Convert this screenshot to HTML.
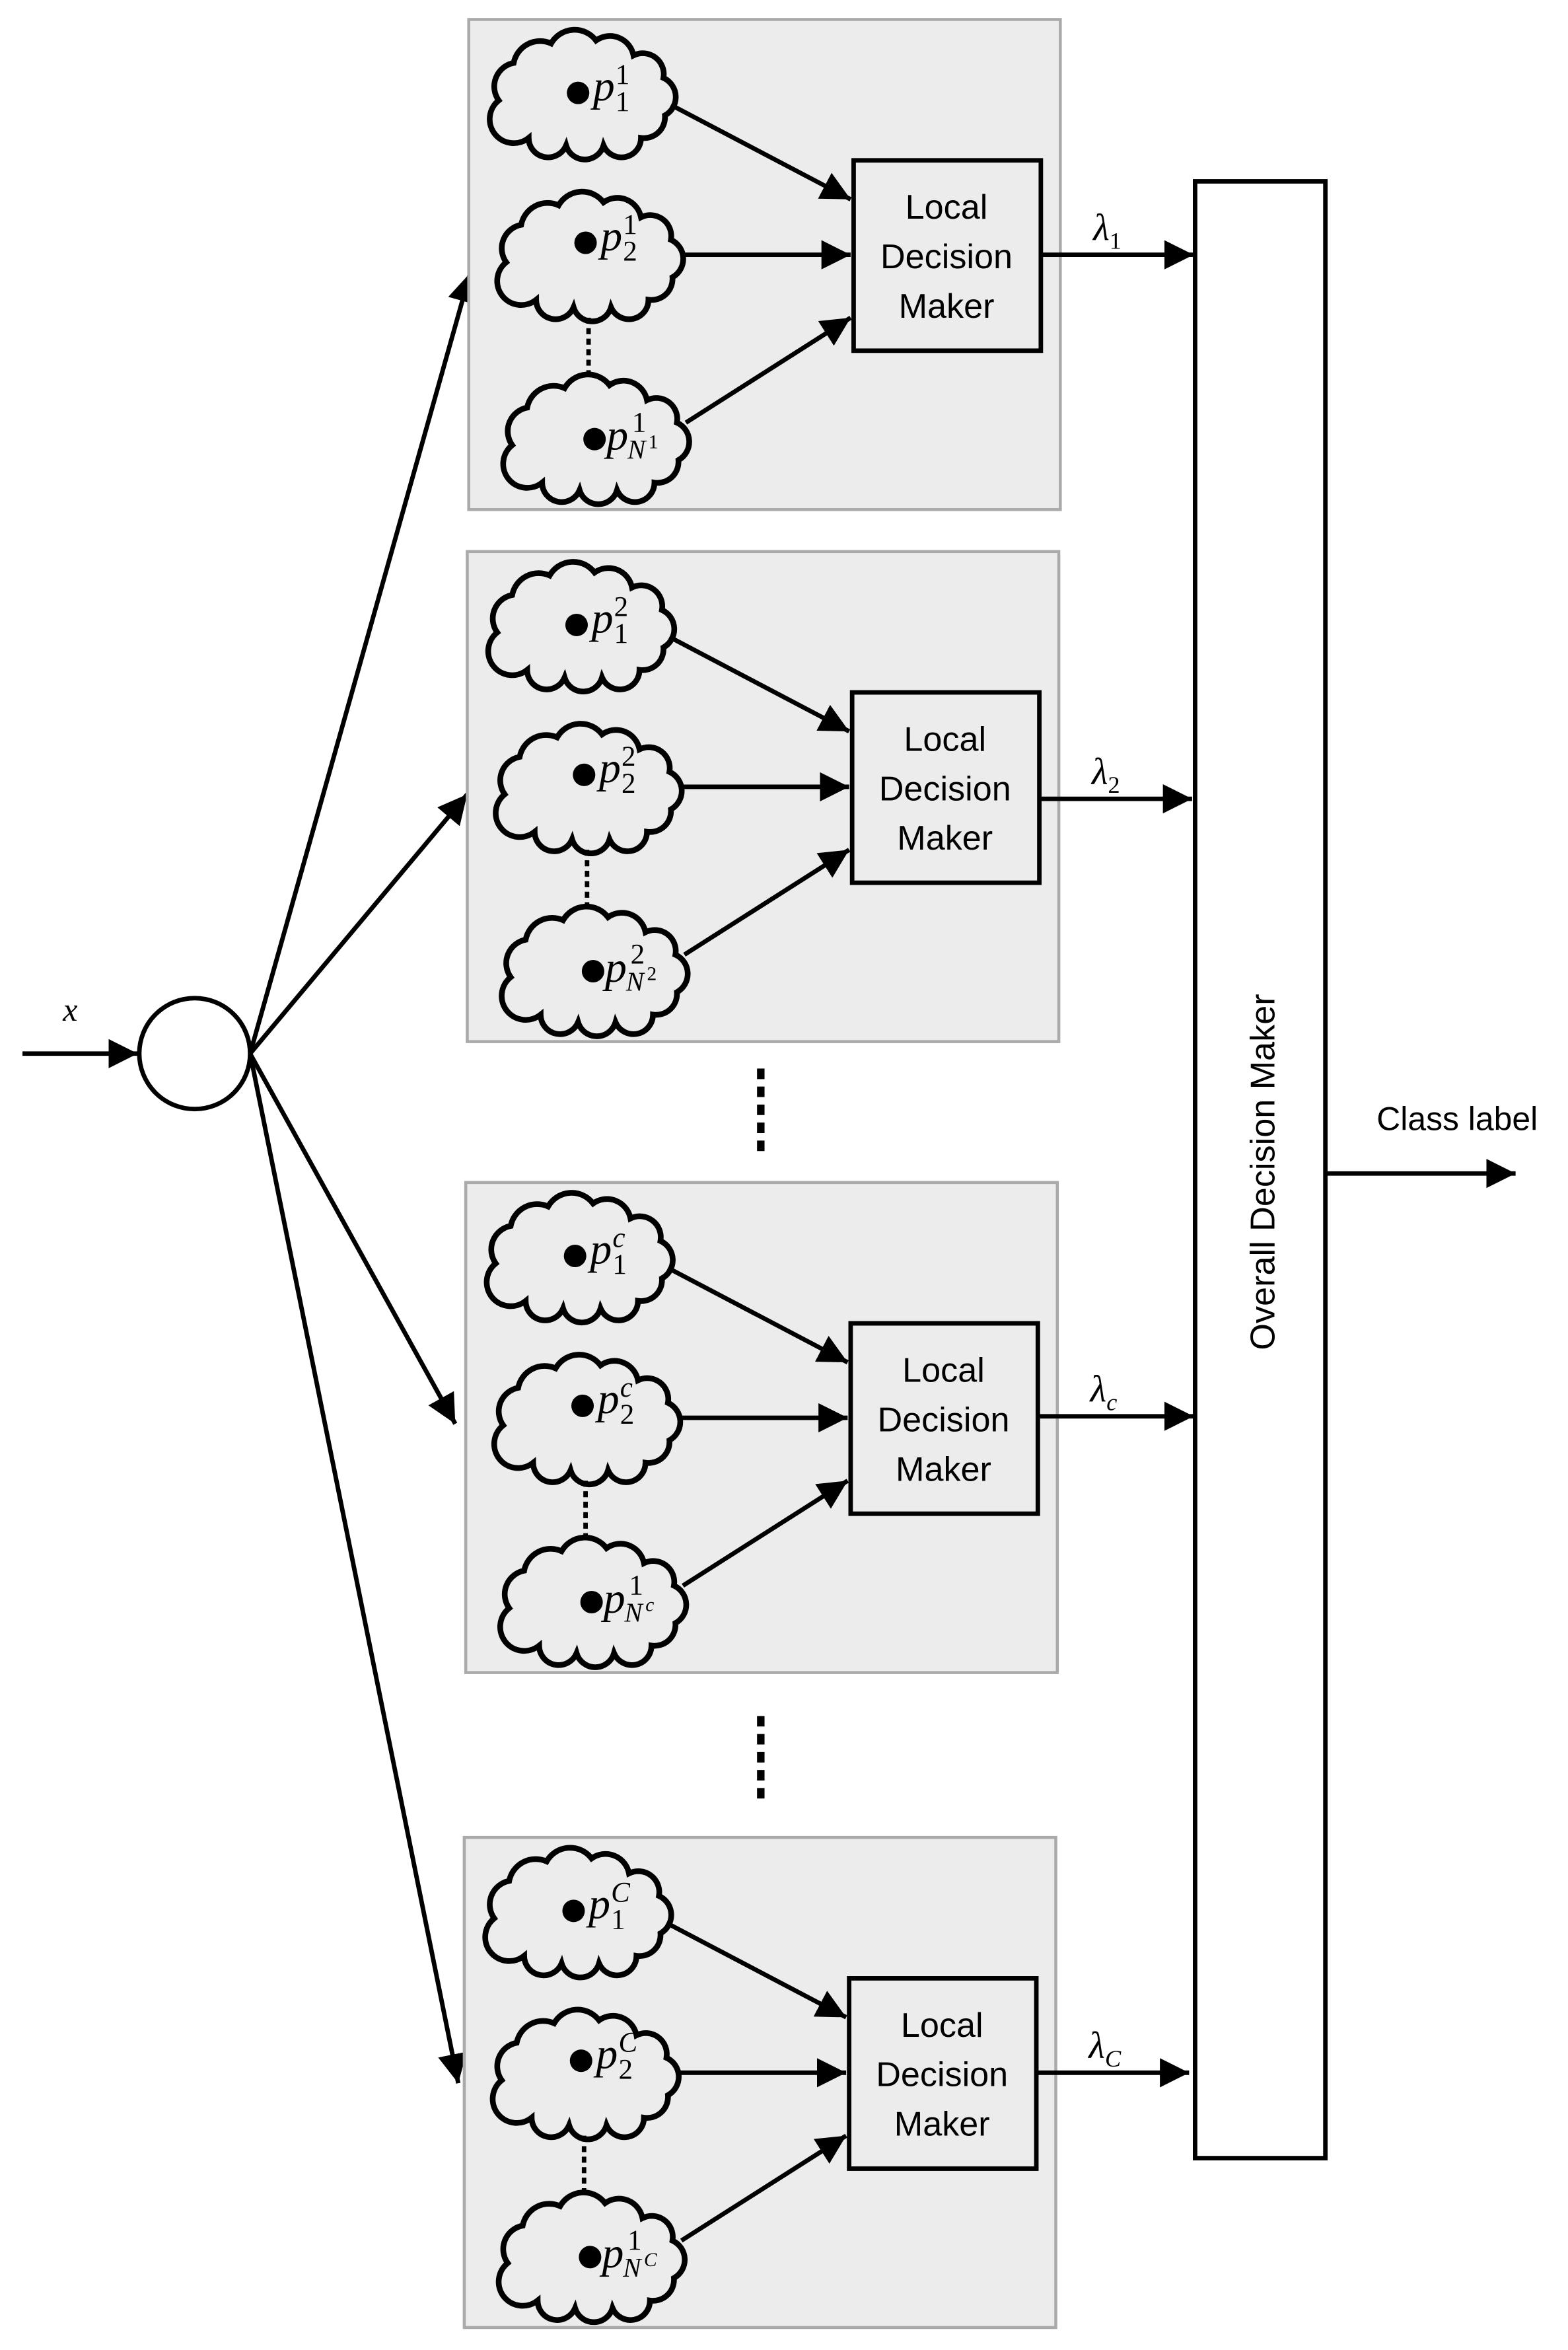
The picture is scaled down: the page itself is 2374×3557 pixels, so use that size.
<!DOCTYPE html>
<html><head><meta charset="utf-8"><style>
html,body{margin:0;padding:0;background:#fff}
svg{display:block}
.s{font-family:"Liberation Sans",sans-serif;}
.m{font-family:"Liberation Serif",serif;font-style:italic;}
.u{font-style:normal}
</style></head><body>
<svg width="2374" height="3557" viewBox="0 0 1047 1568" preserveAspectRatio="none" xmlns="http://www.w3.org/2000/svg">
<defs>
<marker id="ah2" viewBox="0 0 10 10" refX="10" refY="5" markerWidth="6.5" markerHeight="6.5" orient="auto" markerUnits="strokeWidth">
<path d="M0,0 L10,5 L0,10 z" fill="#000"/></marker>
<path id="cloud" d="M-55,5 A16,16 0 0 1 -45,-20 A18,18 0 0 1 -20,-33 A18,18 0 0 1 10,-35 A16,16 0 0 1 35,-25 A14,14 0 0 1 55,-10 A14,14 0 0 1 56,15 A14,14 0 0 1 40,30 A13,13 0 0 1 15,35 A13,13 0 0 1 -10,35 A13,13 0 0 1 -35,30 A16,16 0 0 1 -55,5 Z" fill="#ececec" stroke="#000" stroke-width="3.8"/>
</defs>

<line x1="15" y1="703" x2="92" y2="703" stroke="#000" stroke-width="3" marker-end="url(#ah2)"/>
<text x="42" y="681" class="m" font-size="22">x</text>
<circle cx="130" cy="703" r="37" fill="#fff" stroke="#000" stroke-width="3"/>
<g stroke="#000" stroke-width="3" marker-end="url(#ah2)">
<line x1="167" y1="703" x2="314" y2="182"/>
<line x1="167" y1="703" x2="312" y2="530"/>
<line x1="167" y1="703" x2="304" y2="950"/>
<line x1="167" y1="703" x2="306" y2="1390"/>
</g>

<line x1="508" y1="713" x2="508" y2="770" stroke="#000" stroke-width="5" stroke-dasharray="7,5"/>
<line x1="508" y1="1145" x2="508" y2="1200" stroke="#000" stroke-width="5" stroke-dasharray="7,5"/>

<rect x="798" y="121" width="87" height="1319" fill="#fff" stroke="#000" stroke-width="3"/>
<text class="s" font-size="23" transform="translate(851,782) rotate(-90)" text-anchor="middle">Overall Decision Maker</text>
<line x1="885" y1="783" x2="1012" y2="783" stroke="#000" stroke-width="3" marker-end="url(#ah2)"/>
<text x="973" y="754" class="s" font-size="22" text-anchor="middle">Class label</text>

<g id="p1">
<rect x="313" y="13" width="395" height="327" fill="#ececec" stroke="#aaa" stroke-width="2"/>
<use href="#cloud" x="388" y="62"/><use href="#cloud" x="393" y="170"/><use href="#cloud" x="397" y="292"/>
<line x1="393" y1="212" x2="393" y2="250" stroke="#000" stroke-width="3" stroke-dasharray="4,3"/>
<circle cx="386" cy="62" r="7.5"/><circle cx="391" cy="162" r="7.5"/><circle cx="397" cy="293" r="7.5"/>
<g class="m" font-size="29">
<text x="396" y="67">p</text><text x="411" y="74" font-size="19" class="m u">1</text><text x="411" y="56" font-size="19" class="m u">1</text>
<text x="401" y="167">p</text><text x="416" y="174" font-size="19" class="m u">2</text><text x="416" y="156" font-size="19" class="m u">1</text>
<text x="405" y="300">p</text><text x="419" y="306" font-size="18">N</text><text x="433" y="299" font-size="13" class="m u">1</text><text x="422" y="288" font-size="19" class="m u">1</text>
</g>
<g stroke="#000" stroke-width="3" marker-end="url(#ah2)">
<line x1="448" y1="70" x2="568" y2="133"/><line x1="455" y1="170" x2="568" y2="170"/><line x1="458" y1="282" x2="568" y2="212"/>
<line x1="695" y1="170" x2="797" y2="170"/></g>
<rect x="570" y="107" width="125" height="127" fill="#ececec" stroke="#000" stroke-width="3"/>
<text class="s" font-size="23" text-anchor="middle"><tspan x="632" y="146">Local</tspan><tspan x="632" y="179">Decision</tspan><tspan x="632" y="212">Maker</tspan></text>
<text x="730" y="160" class="m" font-size="25">λ<tspan font-size="16" dy="6" class="u">1</tspan></text>
</g>

<g transform="translate(-1,355)">
<rect x="313" y="13" width="395" height="327" fill="#ececec" stroke="#aaa" stroke-width="2"/>
<use href="#cloud" x="388" y="62"/><use href="#cloud" x="393" y="170"/><use href="#cloud" x="397" y="292"/>
<line x1="393" y1="212" x2="393" y2="250" stroke="#000" stroke-width="3" stroke-dasharray="4,3"/>
<circle cx="386" cy="62" r="7.5"/><circle cx="391" cy="162" r="7.5"/><circle cx="397" cy="293" r="7.5"/>
<g class="m" font-size="29">
<text x="396" y="67">p</text><text x="411" y="74" font-size="19" class="m u">1</text><text x="411" y="56" font-size="19" class="m u">2</text>
<text x="401" y="167">p</text><text x="416" y="174" font-size="19" class="m u">2</text><text x="416" y="156" font-size="19" class="m u">2</text>
<text x="405" y="300">p</text><text x="419" y="306" font-size="18">N</text><text x="433" y="299" font-size="13" class="m u">2</text><text x="422" y="288" font-size="19" class="m u">2</text>
</g>
<g stroke="#000" stroke-width="3" marker-end="url(#ah2)">
<line x1="448" y1="70" x2="568" y2="133"/><line x1="455" y1="170" x2="568" y2="170"/><line x1="458" y1="282" x2="568" y2="212"/>
<line x1="695" y1="178" x2="797" y2="178"/></g>
<rect x="570" y="107" width="125" height="127" fill="#ececec" stroke="#000" stroke-width="3"/>
<text class="s" font-size="23" text-anchor="middle"><tspan x="632" y="146">Local</tspan><tspan x="632" y="179">Decision</tspan><tspan x="632" y="212">Maker</tspan></text>
<text x="730" y="168" class="m" font-size="25">λ<tspan font-size="16" dy="6" class="u">2</tspan></text>
</g>

<g transform="translate(-2,776)">
<rect x="313" y="13" width="395" height="327" fill="#ececec" stroke="#aaa" stroke-width="2"/>
<use href="#cloud" x="388" y="62"/><use href="#cloud" x="393" y="170"/><use href="#cloud" x="397" y="292"/>
<line x1="393" y1="212" x2="393" y2="250" stroke="#000" stroke-width="3" stroke-dasharray="4,3"/>
<circle cx="386" cy="62" r="7.5"/><circle cx="391" cy="162" r="7.5"/><circle cx="397" cy="293" r="7.5"/>
<g class="m" font-size="29">
<text x="396" y="67">p</text><text x="411" y="74" font-size="19" class="m u">1</text><text x="411" y="56" font-size="19">c</text>
<text x="401" y="167">p</text><text x="416" y="174" font-size="19" class="m u">2</text><text x="416" y="156" font-size="19">c</text>
<text x="405" y="300">p</text><text x="419" y="306" font-size="18">N</text><text x="433" y="299" font-size="13">c</text><text x="422" y="288" font-size="19" class="m u">1</text>
</g>
<g stroke="#000" stroke-width="3" marker-end="url(#ah2)">
<line x1="448" y1="70" x2="568" y2="133"/><line x1="455" y1="170" x2="568" y2="170"/><line x1="458" y1="282" x2="568" y2="212"/>
<line x1="695" y1="169" x2="799" y2="169"/></g>
<rect x="570" y="107" width="125" height="127" fill="#ececec" stroke="#000" stroke-width="3"/>
<text class="s" font-size="23" text-anchor="middle"><tspan x="632" y="146">Local</tspan><tspan x="632" y="179">Decision</tspan><tspan x="632" y="212">Maker</tspan></text>
<text x="730" y="159" class="m" font-size="25">λ<tspan font-size="16" dy="6">c</tspan></text>
</g>

<g transform="translate(-3,1213)">
<rect x="313" y="13" width="395" height="327" fill="#ececec" stroke="#aaa" stroke-width="2"/>
<use href="#cloud" x="388" y="62"/><use href="#cloud" x="393" y="170"/><use href="#cloud" x="397" y="292"/>
<line x1="393" y1="212" x2="393" y2="250" stroke="#000" stroke-width="3" stroke-dasharray="4,3"/>
<circle cx="386" cy="62" r="7.5"/><circle cx="391" cy="162" r="7.5"/><circle cx="397" cy="293" r="7.5"/>
<g class="m" font-size="29">
<text x="396" y="67">p</text><text x="411" y="74" font-size="19" class="m u">1</text><text x="411" y="56" font-size="19">C</text>
<text x="401" y="167">p</text><text x="416" y="174" font-size="19" class="m u">2</text><text x="416" y="156" font-size="19">C</text>
<text x="405" y="300">p</text><text x="419" y="306" font-size="18">N</text><text x="433" y="299" font-size="13">C</text><text x="422" y="288" font-size="19" class="m u">1</text>
</g>
<g stroke="#000" stroke-width="3" marker-end="url(#ah2)">
<line x1="448" y1="70" x2="568" y2="133"/><line x1="455" y1="170" x2="568" y2="170"/><line x1="458" y1="282" x2="568" y2="212"/>
<line x1="695" y1="170" x2="797" y2="170"/></g>
<rect x="570" y="107" width="125" height="127" fill="#ececec" stroke="#000" stroke-width="3"/>
<text class="s" font-size="23" text-anchor="middle"><tspan x="632" y="146">Local</tspan><tspan x="632" y="179">Decision</tspan><tspan x="632" y="212">Maker</tspan></text>
<text x="730" y="160" class="m" font-size="25">λ<tspan font-size="16" dy="6">C</tspan></text>
</g>
</svg>
</body></html>
